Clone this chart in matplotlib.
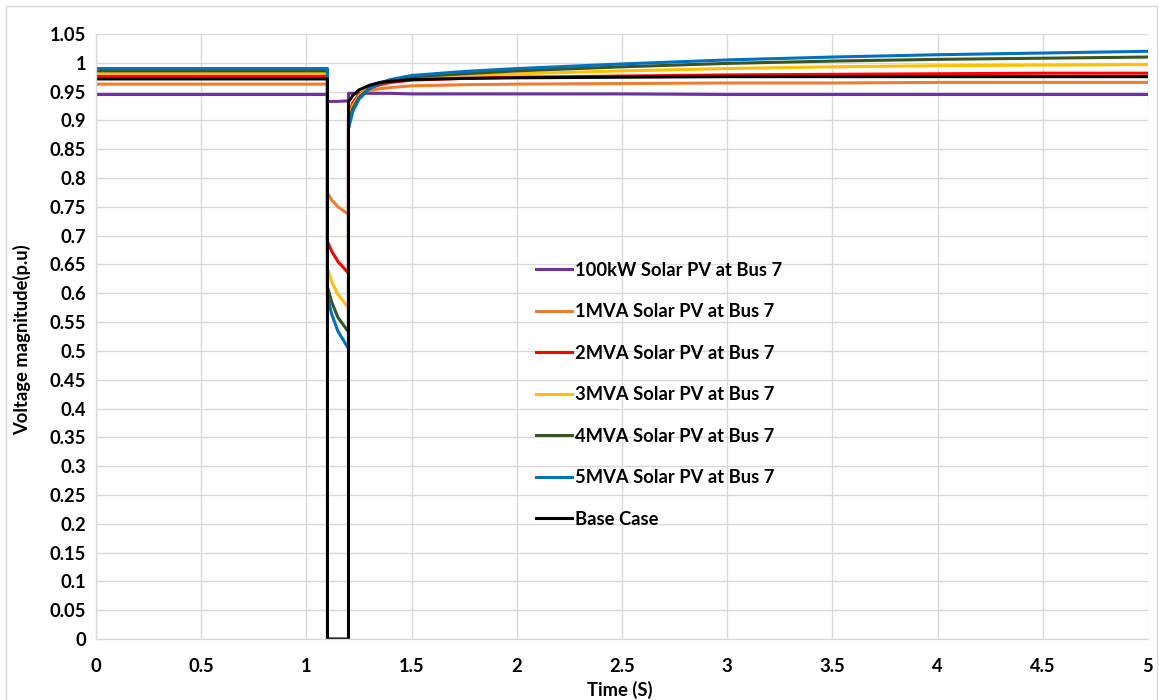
import matplotlib
matplotlib.use("Agg")
import matplotlib.pyplot as plt
from matplotlib.patches import Rectangle

# ---- data ----
time = [0, 1.1, 1.1, 1.12, 1.15, 1.2, 1.2, 1.22, 1.25, 1.3, 1.35, 1.4, 1.5, 1.75,
        2, 2.5, 3, 3.5, 4, 4.5, 5]

pv_100kw = [0.945, 0.945, 0.933, 0.933, 0.933, 0.934, 0.947, 0.947, 0.947, 0.947, 0.947,
            0.947, 0.946, 0.946, 0.946, 0.946, 0.945, 0.945, 0.945, 0.945, 0.945]
pv_1mva = [0.963, 0.963, 0.774, 0.762, 0.750, 0.737, 0.910, 0.930, 0.944, 0.952, 0.955,
           0.957, 0.960, 0.962, 0.963, 0.964, 0.965, 0.965, 0.966, 0.966, 0.966]
pv_2mva = [0.977, 0.977, 0.690, 0.673, 0.655, 0.635, 0.905, 0.930, 0.945, 0.956, 0.962,
           0.966, 0.970, 0.973, 0.975, 0.977, 0.979, 0.980, 0.981, 0.982, 0.982]
pv_3mva = [0.982, 0.982, 0.643, 0.620, 0.598, 0.575, 0.900, 0.925, 0.943, 0.957, 0.965,
           0.969, 0.974, 0.978, 0.981, 0.986, 0.990, 0.993, 0.995, 0.996, 0.997]
pv_4mva = [0.986, 0.986, 0.611, 0.585, 0.558, 0.533, 0.895, 0.920, 0.940, 0.956, 0.965,
           0.970, 0.976, 0.981, 0.986, 0.993, 0.999, 1.003, 1.006, 1.008, 1.010]
pv_5mva = [0.990, 0.990, 0.594, 0.564, 0.534, 0.504, 0.885, 0.915, 0.937, 0.955, 0.965,
           0.971, 0.978, 0.985, 0.990, 0.998, 1.005, 1.010, 1.014, 1.017, 1.020]
base_case = [0.972, 0.972, 0.0, 0.0, 0.0, 0.0, 0.932, 0.943, 0.953, 0.961, 0.966,
             0.968, 0.971, 0.973, 0.974, 0.975, 0.976, 0.976, 0.976, 0.976, 0.976]

labels = ["100kW Solar PV at Bus 7", "1MVA Solar PV at Bus 7", "2MVA Solar PV at Bus 7",
          "3MVA Solar PV at Bus 7", "4MVA Solar PV at Bus 7", "5MVA Solar PV at Bus 7",
          "Base Case"]
series = [pv_100kw, pv_1mva, pv_2mva, pv_3mva, pv_4mva, pv_5mva, base_case]
colors = ["#7030A0", "#ED7D31", "#FF0000", "#FFC000", "#375623", "#0070C0", "#000000"]

x_ticks = [0, 0.5, 1, 1.5, 2, 2.5, 3, 3.5, 4, 4.5, 5]
x_tick_labels = ["0", "0.5", "1", "1.5", "2", "2.5", "3", "3.5", "4", "4.5", "5"]
y_ticks = [i * 0.05 for i in range(22)]
y_tick_labels = ["0", "0.05", "0.1", "0.15", "0.2", "0.25", "0.3", "0.35", "0.4", "0.45",
                 "0.5", "0.55", "0.6", "0.65", "0.7", "0.75", "0.8", "0.85", "0.9", "0.95",
                 "1", "1.05"]

plt.rcParams["font.family"] = ["Lato", "DejaVu Sans"]
FS = 13.2

W, H = 1159, 700
fig = plt.figure(figsize=(W / 100, H / 100), dpi=100)
fig.patch.set_facecolor("white")
fig.patches.append(Rectangle((6 / W, -0.01), (1157 - 6) / W, (H - 6) / H + 0.01,
                             transform=fig.transFigure, fill=False,
                             edgecolor="#d9d9d9", linewidth=1.0))

ax = fig.add_axes([96 / W, 1 - 639 / H, (1148 - 96) / W, (639 - 34) / H])

for vals, lab, col in zip(series, labels, colors):
    ax.plot(time, vals, color=col, lw=2.2, label=lab)

ax.set_xlim(0, 5)
ax.set_ylim(0, 1.05)
ax.set_xticks(x_ticks)
ax.set_xticklabels(x_tick_labels, fontsize=FS, fontweight="bold")
ax.set_yticks(y_ticks)
ax.set_yticklabels(y_tick_labels, fontsize=FS, fontweight="bold")
ax.tick_params(length=0, pad=7)
ax.tick_params(axis="x", pad=14)
ax.grid(True, color="#d9d9d9", lw=1.0)
ax.set_axisbelow(True)
for s in ["top", "right"]:
    ax.spines[s].set_visible(False)
for s in ["left", "bottom"]:
    ax.spines[s].set_color("#d9d9d9")
    ax.spines[s].set_linewidth(1.0)

ax.set_xlabel("Time (S)", fontsize=FS, fontweight="bold")
ax.set_ylabel("Voltage magnitude(p.u)", fontsize=FS, fontweight="bold")
ax.xaxis.set_label_coords(0.4975, (639 - 690) / 605, transform=ax.transAxes)
ax.yaxis.set_label_coords((22 - 96) / 1052, 0.494, transform=ax.transAxes)
ax.xaxis.label.set_va("center")
ax.yaxis.label.set_va("center")

leg = ax.legend(loc="upper left", bbox_to_anchor=(519 / W, 1 - 245 / H),
                bbox_transform=fig.transFigure, frameon=False,
                prop={"weight": "bold", "size": FS}, handlelength=2.0,
                handletextpad=0.15, labelspacing=1.34)

fig.savefig("out.png", dpi=100, facecolor="white")
